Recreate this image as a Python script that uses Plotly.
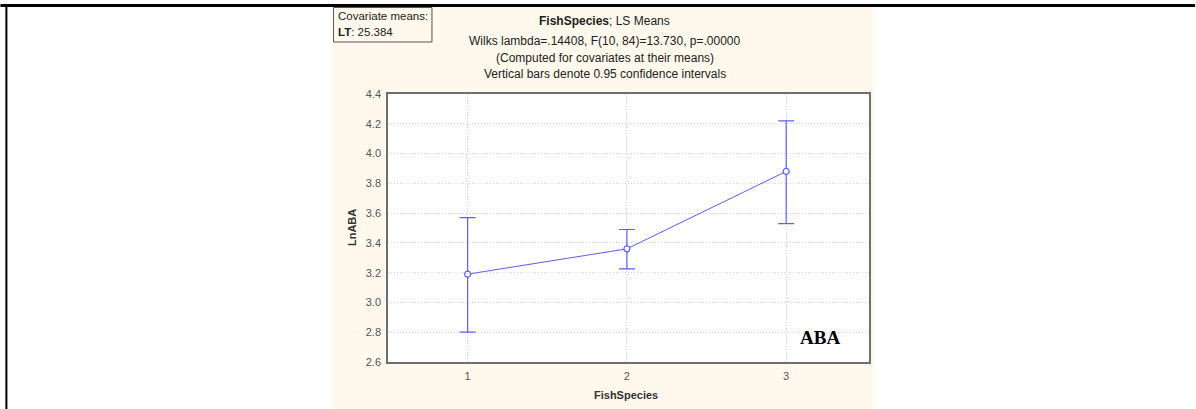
import plotly.graph_objects as go

categories = [1, 2, 3]
means = [3.19, 3.36, 3.88]
upper = [3.57, 3.49, 4.22]
lower = [2.80, 3.225, 3.53]
y_ticks = [2.6, 2.8, 3.0, 3.2, 3.4, 3.6, 3.8, 4.0, 4.2, 4.4]

W, H = 1196, 409
L, R, T, B = 388, 869.5, 94, 362

def px(x):
    return (x - L) / (R - L)

def py(y):
    return (B - y) / (B - T)

err_plus = [u - m for u, m in zip(upper, means)]
err_minus = [m - l for m, l in zip(means, lower)]

blue = "#5C5CFF"
font = "Liberation Sans, Arial, sans-serif"

fig = go.Figure()
fig.add_trace(go.Scatter(
    x=categories, y=means, mode="lines+markers",
    line=dict(color=blue, width=1),
    marker=dict(symbol="circle", size=6, color="white", line=dict(color=blue, width=1.2)),
    error_y=dict(type="data", symmetric=False, array=err_plus, arrayminus=err_minus,
                 color=blue, thickness=1.2, width=8),
    showlegend=False,
))

shapes = [
    # cream panel
    dict(type="rect", xref="paper", yref="paper", x0=px(333), x1=px(875), y0=py(409), y1=py(7),
         fillcolor="#FFF8EC", line=dict(width=0), layer="below"),
    # white plot area
    dict(type="rect", xref="paper", yref="paper", x0=0, x1=1, y0=0, y1=1,
         fillcolor="white", line=dict(width=0), layer="below"),
    # covariate box
    dict(type="rect", xref="paper", yref="paper", x0=px(333.5), x1=px(432), y0=py(42), y1=py(7.5),
         fillcolor="rgba(0,0,0,0)", line=dict(color="#555555", width=1)),
    # top black bar
    dict(type="rect", xref="paper", yref="paper", x0=px(0), x1=px(1196), y0=py(7), y1=py(4),
         fillcolor="black", line=dict(width=0)),
    # left black line
    dict(type="rect", xref="paper", yref="paper", x0=px(5), x1=px(7), y0=py(409), y1=py(4),
         fillcolor="black", line=dict(width=0)),
]

annotations = [
    dict(text="<b>FishSpecies</b>; LS Means", x=px(605), y=py(21)),
    dict(text="Wilks lambda=.14408, F(10, 84)=13.730, p=.00000", x=px(605), y=py(41)),
    dict(text="(Computed for covariates at their means)", x=px(605), y=py(57.5)),
    dict(text="Vertical bars denote 0.95 confidence intervals", x=px(605), y=py(74)),
]
for a in annotations:
    a.update(xref="paper", yref="paper", showarrow=False, xanchor="center", yanchor="middle",
             font=dict(family=font, size=12, color="#222222"))

annotations += [
    dict(text="Covariate means:", x=px(336), y=py(16), xanchor="left"),
    dict(text="<b>LT</b>: 25.384", x=px(336), y=py(32), xanchor="left"),
]
for a in annotations[-2:]:
    a.update(xref="paper", yref="paper", showarrow=False, yanchor="middle",
             font=dict(family=font, size=11.5, color="#222222"))

annotations += [
    dict(text="<b>ABA</b>", x=px(820), y=py(337), xref="paper", yref="paper",
         showarrow=False, xanchor="center", yanchor="middle",
         font=dict(family="Liberation Serif, Times New Roman, serif", size=19, color="black")),
    dict(text="<b>FishSpecies</b>", x=px(626), y=py(395), xref="paper", yref="paper",
         showarrow=False, xanchor="center", yanchor="middle",
         font=dict(family=font, size=11, color="#333333")),
    dict(text="<b>LnABA</b>", x=px(352), y=py(228), xref="paper", yref="paper",
         showarrow=False, xanchor="center", yanchor="middle", textangle=-90,
         font=dict(family=font, size=11, color="#333333")),
]

axis_common = dict(
    showgrid=True, gridcolor="#D4D4D4", griddash="1px,2px", gridwidth=1,
    showline=True, linecolor="#707070", linewidth=1.5, mirror=True, zeroline=False,
    ticks="outside", ticklen=3, tickcolor="rgba(0,0,0,0)", automargin=False,
    tickfont=dict(family=font, size=11, color="#555555"),
)

fig.update_layout(
    width=W, height=H, autosize=False,
    margin=dict(l=L, r=W - R, t=T, b=H - B, pad=0, autoexpand=False),
    paper_bgcolor="white", plot_bgcolor="white",
    shapes=shapes, annotations=annotations,
    xaxis=dict(range=[0.5, 3.52], tickvals=categories, ticktext=[str(c) for c in categories],
               **axis_common),
    yaxis=dict(range=[2.6, 4.4], tickvals=y_ticks, ticktext=[f"{v:.1f}" for v in y_ticks],
               **axis_common),
)

fig.write_html("out.html", config={"displayModeBar": False},
               post_script="document.body.style.margin='0';")
